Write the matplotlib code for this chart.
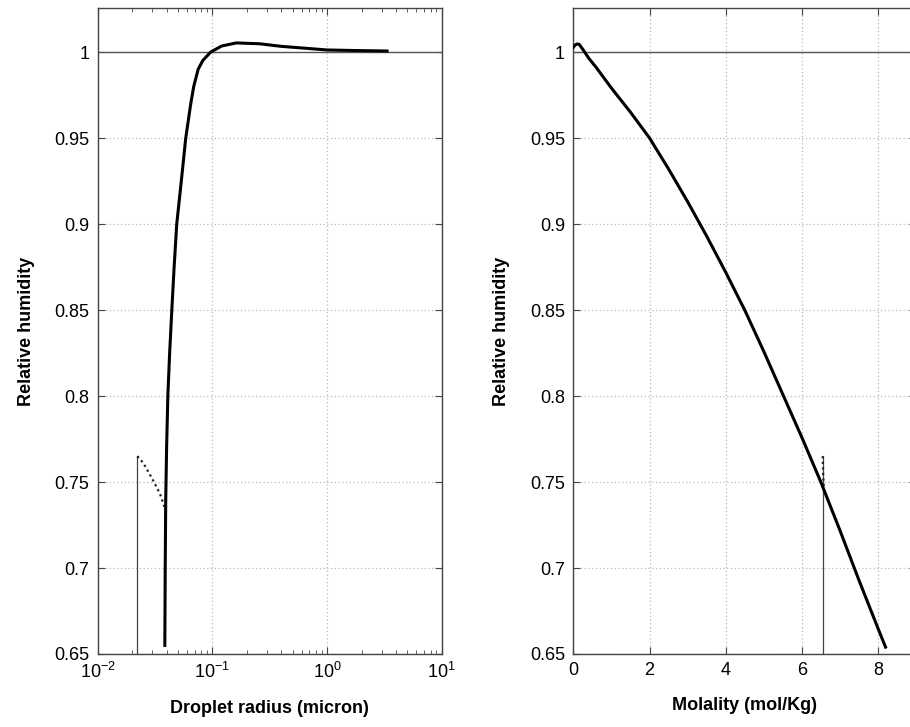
import numpy as np
import matplotlib
matplotlib.use("Agg")
import matplotlib.pyplot as plt
from matplotlib.ticker import FixedLocator, FuncFormatter, LogLocator, NullFormatter

plt.rcParams['font.family'] = ['Liberation Sans', 'DejaVu Sans']
plt.rcParams['mathtext.default'] = 'regular'
plt.rcParams['axes.unicode_minus'] = False

# left panel: relative humidity vs droplet radius
radius = [0.0385, 0.0388, 0.0392, 0.0399, 0.0409, 0.0424, 0.0443, 0.0464, 0.0489,
          0.0536, 0.0586, 0.0648, 0.0688, 0.0752, 0.0824, 0.0967, 0.1205, 0.1617,
          0.258, 0.40, 1.0, 2.0, 3.34]
rh_radius = [0.655, 0.70, 0.74, 0.77, 0.80, 0.825, 0.85, 0.875, 0.90,
             0.925, 0.95, 0.97, 0.98, 0.99, 0.995, 1.0, 1.0035, 1.0053,
             1.0048, 1.0033, 1.0012, 1.0008, 1.0006]
radius_dotted = [0.0222, 0.025, 0.0304, 0.035, 0.0398]
rh_dotted = [0.765, 0.761, 0.751, 0.743, 0.732]
radius_mark = 0.0222

# right panel: relative humidity vs molality
molality = [0.0, 0.05, 0.1, 0.15, 0.25, 0.4, 0.6, 0.8, 1.0, 1.25, 1.5, 1.75, 2.0,
            2.5, 3.0, 3.5, 4.0, 4.5, 5.0, 5.5, 6.0, 6.5, 7.0, 7.5, 8.0, 8.2]
rh_molality = [1.0028, 1.0042, 1.0047, 1.0045, 1.0015, 0.9965, 0.991, 0.985, 0.979,
               0.972, 0.965, 0.9575, 0.95, 0.932, 0.913, 0.893, 0.872, 0.850, 0.826,
               0.801, 0.776, 0.750, 0.722, 0.693, 0.665, 0.654]
molality_dotted = [6.55, 6.56, 6.58]
rh_molality_dotted = [0.765, 0.755, 0.746]
molality_mark = 6.55
mark_top = 0.765

yticks = [0.65, 0.7, 0.75, 0.8, 0.85, 0.9, 0.95, 1.0]

W, H = 910, 727
fig = plt.figure(figsize=(W / 100, H / 100), dpi=100)
ax1 = fig.add_axes([97.7 / W, 1 - 654 / H, (441.7 - 97.7) / W, (654 - 8) / H])
ax2 = fig.add_axes([573.4 / W, 1 - 654 / H, (916 - 573.4) / W, (654 - 8) / H])

grid_kw = dict(color='#b8b8b8', linestyle=(0, (1, 2)), linewidth=0.9)
yfmt = FuncFormatter(lambda v, p: '%g' % round(v, 2))

for ax in (ax1, ax2):
    ax.set_ylim(0.65, 1.0256)
    ax.yaxis.set_major_locator(FixedLocator(yticks))
    ax.yaxis.set_major_formatter(yfmt)
    ax.grid(True, **grid_kw)
    ax.axhline(1.0, color='#555555', linewidth=1.0, zorder=2)
    ax.tick_params(which='both', direction='in', top=True, right=True, labelsize=13,
                   color='#444444', pad=6)
    ax.tick_params(which='major', length=5)
    ax.tick_params(which='minor', length=3)
    for s in ax.spines.values():
        s.set_color('#444444')
        s.set_linewidth(1.0)
    ax.set_ylabel('Relative humidity', fontsize=13, fontweight='bold', labelpad=14)

# left
ax1.set_xscale('log')
ax1.set_xlim(1e-2, 1e1)
ax1.xaxis.set_major_locator(LogLocator(base=10, numticks=10))
ax1.xaxis.set_minor_locator(LogLocator(base=10, subs=np.arange(2, 10), numticks=20))
ax1.xaxis.set_minor_formatter(NullFormatter())
ax1.plot([radius_mark, radius_mark], [0.65, mark_top], color='#444444', linewidth=0.9, zorder=3)
ax1.plot(radius_dotted, rh_dotted, color='#222222', linestyle=(0, (1, 1.5)), linewidth=1.6, zorder=3)
ax1.plot(radius, rh_radius, color='black', linewidth=2.2, zorder=4)
ax1.set_xlabel('Droplet radius (micron)', fontsize=13, fontweight='bold', labelpad=13)

# right
ax2.set_xlim(0, 9)
ax2.xaxis.set_major_locator(FixedLocator([0, 2, 4, 6, 8]))
ax2.xaxis.set_major_formatter(FuncFormatter(lambda v, p: '%d' % v))
ax2.plot([molality_mark, molality_mark], [0.65, mark_top], color='#444444', linewidth=0.9, zorder=3)
ax2.plot(molality_dotted, rh_molality_dotted, color='#222222', linestyle=(0, (1, 1.5)), linewidth=1.6, zorder=3)
ax2.plot(molality, rh_molality, color='black', linewidth=2.2, zorder=4)
ax2.set_xlabel('Molality (mol/Kg)', fontsize=13, fontweight='bold', labelpad=13)

fig.savefig('out.png', dpi=100)
